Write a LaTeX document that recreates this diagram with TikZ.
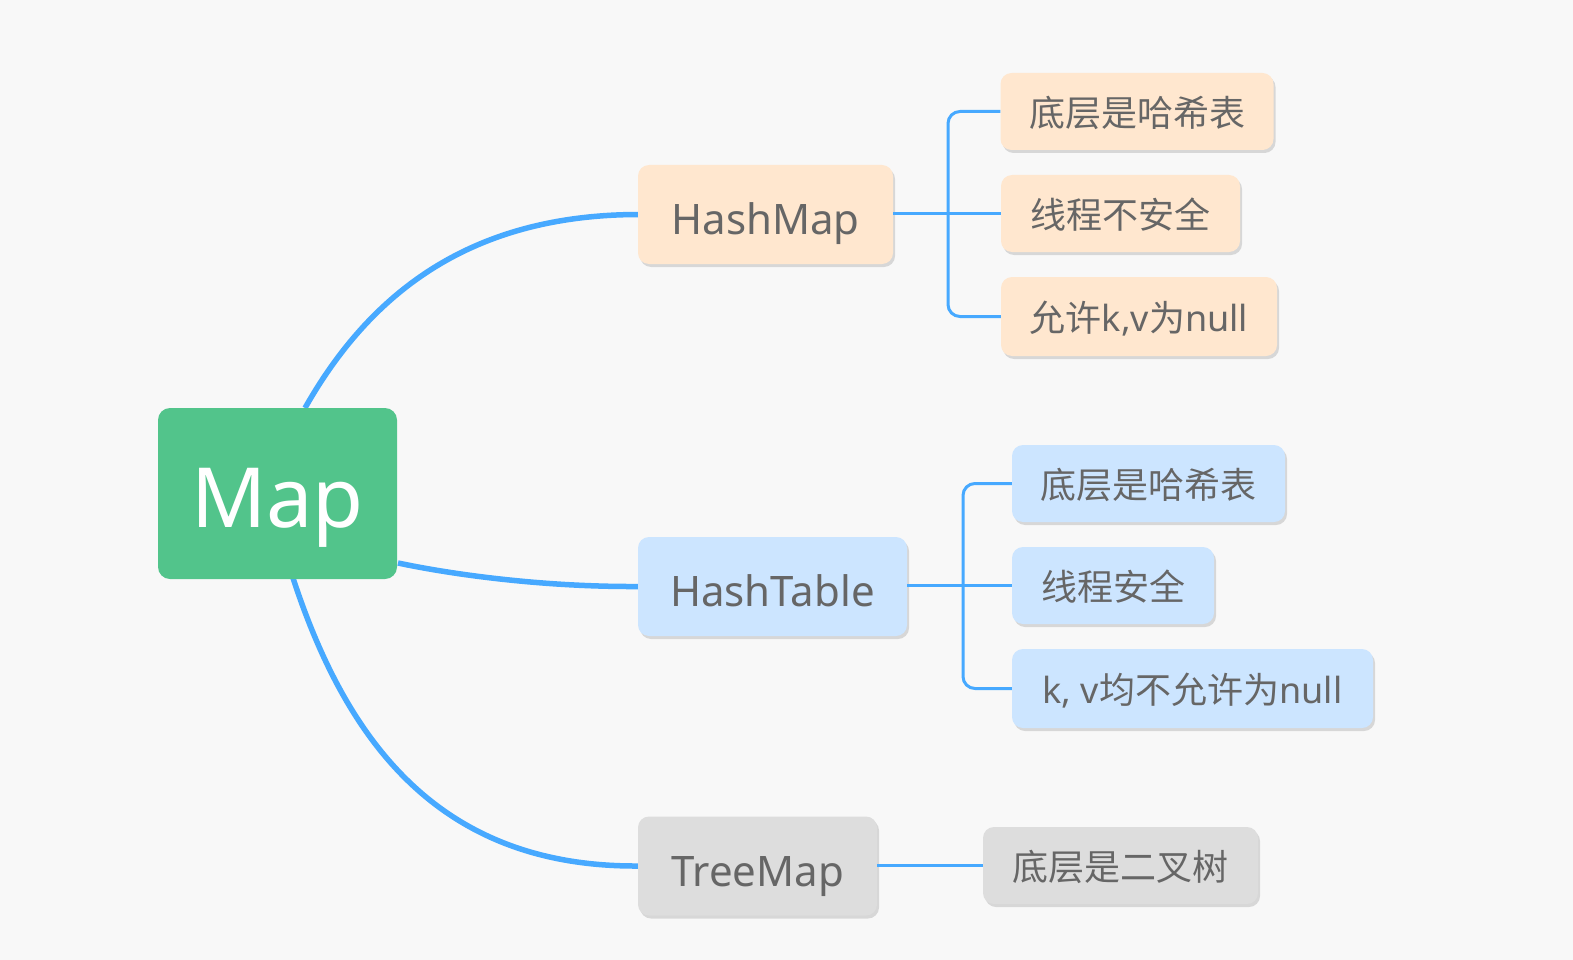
\documentclass[tikz,border=0pt]{standalone}
\usepackage{fontspec}
\setmainfont{Noto Sans}
\newfontfamily\cjk{Noto Sans CJK SC}
\usetikzlibrary{shadows}
\definecolor{bg}{HTML}{F8F8F8}
\definecolor{mapgreen}{HTML}{52C48B}
\definecolor{peach}{HTML}{FFE7CF}
\definecolor{skyb}{HTML}{CCE5FF}
\definecolor{greyb}{HTML}{DDDDDD}
\definecolor{txt}{HTML}{666666}
\definecolor{link}{HTML}{47A9FF}
\begin{document}
\begin{tikzpicture}[x=1pt,y=-1pt,
  box/.style={rectangle, rounded corners=11pt, inner sep=0pt, text=txt, align=center,
    drop shadow={shadow xshift=2pt, shadow yshift=-3pt, fill=black, opacity=0.13}},
  mainbox/.style={box, font=\fontsize{42}{48}\selectfont, text height=40pt, text depth=0pt, minimum height=99pt},
  subbox/.style={box, font=\fontsize{36}{42}\selectfont, text height=30pt, text depth=0pt, minimum height=77pt},
  hmcol/.style={fill=peach},
  htcol/.style={fill=skyb},
  tmcol/.style={fill=greyb},
  curve/.style={draw=link, line width=5.5pt},
  branch/.style={draw=link, line width=3pt, rounded corners=12pt},
]
\fill[bg] (0,0) rectangle (1573,960);
\useasboundingbox (0,0) rectangle (1573,960);

% main nodes
\node[mainbox, hmcol, minimum width=255pt] (hm) at (765.5,214.5) {HashMap};
\node[mainbox, htcol, minimum width=269pt] (ht) at (772.5,586.5) {HashTable};
\node[mainbox, tmcol, minimum width=239pt] (tm) at (757.5,866) {TreeMap};

% curves from Map
\coordinate (mapc) at (277.5,493.5);
\coordinate (m1) at (305,408);
\coordinate (m2) at (398,563);
\coordinate (m3) at (293,578);
\draw[curve] (m1) .. controls (369,295) and (468,215) .. (hm.west);
\draw[curve] (m2) .. controls (450,574) and (540,587) .. (ht.west);
\draw[curve] (m3) .. controls (346,740) and (438,867) .. (tm.west);

\node[rectangle, rounded corners=12pt, fill=mapgreen, text=white, inner sep=0pt,
  minimum width=239pt, minimum height=171pt,
  font=\fontsize{83}{90}\selectfont, text height=67pt, text depth=0pt] (map) at (mapc) {Map};

% HashMap children
\node[subbox, hmcol, minimum width=273pt] (hm1) at (1137,111.5) {{\cjk 底层是哈希表}};
\node[subbox, hmcol, minimum width=239pt] (hm2) at (1120.5,213.5) {{\cjk 线程不安全}};
\node[subbox, hmcol, minimum width=276pt, minimum height=79pt] (hm3) at (1139,316.5) {{\cjk 允许}k,v{\cjk 为}null};
\coordinate (hmj) at (948,213.5);
\draw[branch] (hm1.west) -| (hmj) |- (hm3.west);
\draw[branch] (hm.east |- hm2.west) -- (hm2.west);

% HashTable children
\node[subbox, htcol, minimum width=273pt] (ht1) at (1148.5,483.5) {{\cjk 底层是哈希表}};
\node[subbox, htcol, minimum width=202pt] (ht2) at (1113,585.5) {{\cjk 线程安全}};
\node[subbox, htcol, minimum width=361pt, minimum height=79pt] (ht3) at (1192.5,688.5) {k, v{\cjk 均不允许为}null};
\coordinate (htj) at (963,585.5);
\draw[branch] (ht1.west) -| (htj) |- (ht3.west);
\draw[branch] (ht.east |- ht2.west) -- (ht2.west);

% TreeMap child
\node[subbox, tmcol, minimum width=275pt] (tm1) at (1120.5,865.5) {{\cjk 底层是二叉树}};
\draw[branch] (tm.east |- tm1.west) -- (tm1.west);
\end{tikzpicture}
\end{document}
